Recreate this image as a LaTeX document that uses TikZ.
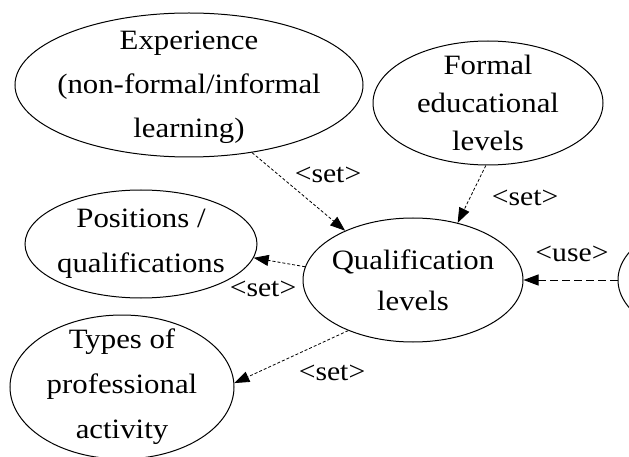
\documentclass[tikz,border=0pt]{standalone}
\usepackage{fontspec}
\setmainfont{Liberation Serif}[FakeStretch=1.1]
\usetikzlibrary{shapes.geometric,arrows.meta}
\begin{document}
\begin{tikzpicture}[x=1pt,y=-1pt,
  ell/.style={ellipse, draw, line width=1pt, inner sep=0pt},
  txt/.style={align=center, inner sep=0pt},
  setedge/.style={-{Triangle[length=15pt,width=11pt]}, line width=0.8pt, dash pattern=on 3pt off 2pt},
  useedge/.style={-{Triangle[length=15pt,width=11pt]}, line width=1pt, dash pattern=on 8pt off 4pt},
  lbl/.style={font=\fontsize{27}{30}\selectfont, inner sep=0pt}]
\useasboundingbox (0,0) rectangle (629,457);
\clip (0,0) rectangle (629,457);
\fill[white] (0,0) rectangle (629,457);
% ellipses
\node[ell, minimum width=348pt, minimum height=144pt] (exp) at (189,85) {};
\node[ell, minimum width=230pt, minimum height=124pt] (form) at (488,103) {};
\node[ell, minimum width=220pt, minimum height=124pt] (qual) at (413,280) {};
\node[ell, minimum width=232pt, minimum height=108pt] (pos) at (141,244) {};
\node[ell, minimum width=224pt, minimum height=144pt] (types) at (122,387) {};
\node[ell, minimum width=200pt, minimum height=120pt] (right) at (718,280) {};
% texts
\node[txt, font=\fontsize{28}{44}\selectfont] (expt) at (189,87) {Experience\\(non-formal/informal\\learning)};
\node[txt, font=\fontsize{28}{38}\selectfont] (formt) at (form) {Formal\\educational\\levels};
\node[txt, font=\fontsize{28}{41}\selectfont] (qualt) at (qual) {Qualification\\levels};
\node[txt, font=\fontsize{28}{45}\selectfont] (post) at (pos) {Positions /\\qualifications};
\node[txt, font=\fontsize{28}{45}\selectfont] (typest) at (types) {Types of\\professional\\activity};
% edges
\draw[setedge] (exp.-47) -- (qual.144);
\draw[setedge] (form.-92) -- (qual.52);
\draw[setedge] (qual.173) -- (pos.-7);
\draw[setedge] (qual.218) -- (types.2);
\draw[useedge] (right.180) -- (qual.0);
% labels
\node[lbl] (l1) at (328,175) {\textless{}set\textgreater{}};
\node[lbl] (l2) at (525,198) {\textless{}set\textgreater{}};
\node[lbl] (l3) at (263,289) {\textless{}set\textgreater{}};
\node[lbl] (l4) at (332,373) {\textless{}set\textgreater{}};
\node[lbl] (l5) at (572,254) {\textless{}use\textgreater{}};
\end{tikzpicture}
\end{document}
